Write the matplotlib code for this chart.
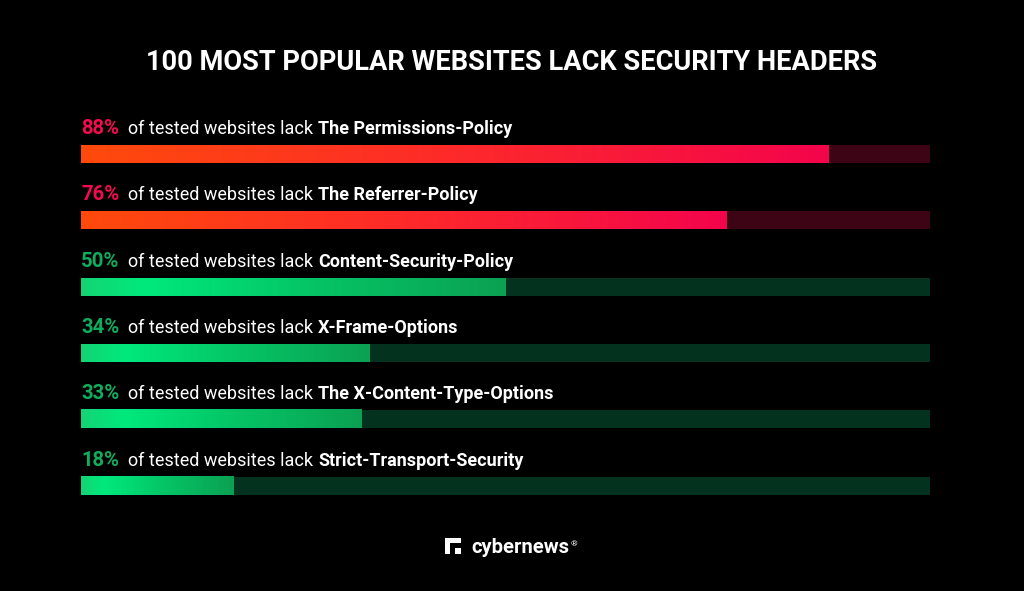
import numpy as np
import matplotlib.pyplot as plt
from matplotlib.colors import LinearSegmentedColormap
from matplotlib.patches import Rectangle

# Data
headers = ['The Permissions-Policy', 'The Referrer-Policy', 'Content-Security-Policy',
           'X-Frame-Options', 'The X-Content-Type-Options', 'Strict-Transport-Security']
share = [88, 76, 50, 34, 33, 18]
group = ['red', 'red', 'green', 'green', 'green', 'green']

plt.rcParams['font.family'] = ['Roboto', 'DejaVu Sans']

red_cmap = LinearSegmentedColormap.from_list('r', ['#ff4a0c', '#fd2a2a', '#f4044c'])
green_cmap = LinearSegmentedColormap.from_list(
    'g', [(0, '#14d474'), (0.15, '#00e97c'), (0.55, '#05c466'), (1, '#0ba152')])
track = {'red': '#3c0415', 'green': '#03321e'}
pct_color = {'red': '#f50a50', 'green': '#0fae5e'}

W, H = 1024, 591
fig = plt.figure(figsize=(W / 100, H / 100), dpi=100, facecolor='black')
ax = fig.add_axes([81 / W, 1 - 519 / H, 849 / W, 398.4 / H])
ax.set_facecolor('black')

bar_h = 18 / 66.4
grad = np.linspace(0, 1, 256).reshape(1, -1)
for i, (v, g) in enumerate(zip(share, group)):
    yc = i + 0.5
    ax.barh(yc, 100, height=bar_h, color=track[g], linewidth=0, zorder=1)
    cmap = red_cmap if g == 'red' else green_cmap
    ax.imshow(grad, cmap=cmap, aspect='auto', interpolation='bilinear', zorder=2,
              extent=(0, v, yc + bar_h / 2, yc - bar_h / 2))

ax.set_xlim(0, 100)
ax.set_ylim(6, 0)
ax.axis('off')

# Labels: percentage + plain text + bold header name, chained horizontally
fig.canvas.draw()
r = fig.canvas.get_renderer()
inv = ax.transData.inverted()
fs = 13
for i, (name, v, g) in enumerate(zip(headers, share, group)):
    ty = i + 0.5 - 0.3
    t1 = ax.text(0, ty, f'{v}%', color=pct_color[g], fontsize=14.6,
                 fontweight='bold', va='baseline')
    x = inv.transform((t1.get_window_extent(r).x1 + 9, 0))[0]
    t2 = ax.text(x, ty, 'of tested websites lack', color='white', fontsize=fs, va='baseline')
    x = inv.transform((t2.get_window_extent(r).x1 + 5, 0))[0]
    ax.text(x, ty, name, color='white', fontsize=fs, fontweight='bold', va='baseline')

# Title
fig.text(0.5, 1 - 63 / H, '100 MOST POPULAR WEBSITES LACK SECURITY HEADERS',
         color='white', fontsize=19.6, fontweight='bold', ha='center', va='center')

# Logo
def px(x, y, w, h, c):
    fig.add_artist(Rectangle((x / W, 1 - (y + h) / H), w / W, h / H,
                             transform=fig.transFigure, color=c, lw=0))

px(445, 538, 16, 16, 'white')
px(450, 543, 11, 11, 'black')
px(455, 548, 6, 6, 'white')
fig.text(471 / W, 1 - 553 / H, 'cybernews', color='white', fontsize=14.6,
         fontweight='bold', va='baseline')
fig.text(571 / W, 1 - 546 / H, '®', color='white', fontsize=6, va='baseline')

fig.savefig('out.png', dpi=100, facecolor='black')
